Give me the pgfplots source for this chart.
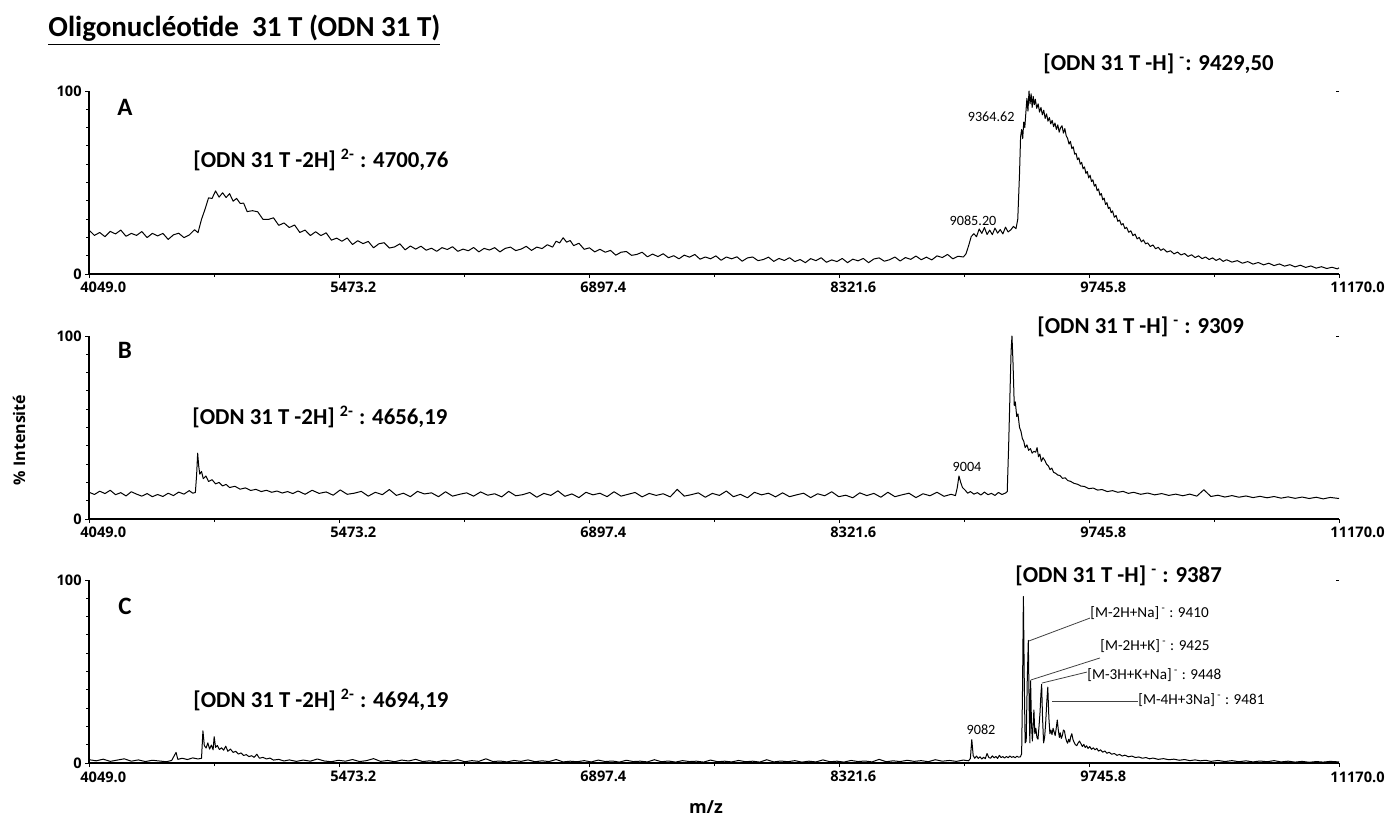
\documentclass[border=0pt]{standalone}
\usepackage{fontspec}
\setmainfont{Carlito}
\newfontfamily\osans{Open Sans}
\usepackage{pgfplots}
\usepackage{pgfplotstable}
\pgfplotsset{compat=1.18}

\pgfplotstableread{
x y
4050 23.9
4080 21.1
4110 22.7
4140 20.4
4170 23.3
4200 21.9
4230 24.0
4260 20.6
4290 22.2
4320 21.1
4350 23.2
4380 19.9
4410 22.2
4440 20.8
4470 22.2
4500 18.9
4530 21.4
4560 22.3
4590 19.9
4620 21.3
4650 24.2
4670 22.6
4690 29.9
4710 35.4
4730 41.6
4750 41.3
4770 45.4
4790 42.0
4810 44.4
4830 41.8
4850 43.9
4870 39.8
4890 41.3
4910 38.6
4930 38.7
4950 34.1
4980 34.6
5010 34.0
5040 29.9
5070 29.8
5100 30.7
5130 26.6
5160 27.9
5190 25.4
5220 26.8
5250 22.7
5280 24.0
5310 21.0
5340 23.1
5370 21.0
5400 22.5
5430 18.5
5460 19.6
5490 17.9
5520 19.7
5550 16.1
5580 18.2
5610 16.6
5640 17.8
5670 14.3
5700 16.5
5730 17.1
5760 14.2
5790 14.8
5820 16.5
5850 13.2
5880 15.3
5910 13.6
5940 15.2
5970 13.0
6000 14.1
6030 12.4
6060 14.4
6090 13.4
6120 14.9
6150 12.4
6180 13.6
6210 12.7
6240 14.5
6270 12.1
6300 14.0
6330 13.1
6360 14.4
6390 12.1
6420 14.0
6450 14.7
6480 12.8
6510 13.6
6540 15.1
6570 12.9
6600 14.7
6630 13.9
6660 16.0
6690 14.7
6710 17.9
6730 17.0
6750 19.8
6770 17.4
6790 18.3
6810 15.5
6840 16.8
6870 13.5
6900 14.3
6930 12.1
6960 13.5
6990 11.9
7020 12.9
7050 10.3
7080 11.9
7110 12.3
7140 10.2
7170 10.7
7200 11.9
7230 9.4
7260 10.9
7290 9.5
7320 11.1
7350 8.9
7380 10.0
7410 8.3
7440 10.3
7470 9.2
7500 10.7
7530 8.1
7560 9.3
7590 8.3
7620 9.9
7650 7.5
7680 9.3
7710 8.3
7740 9.4
7770 7.0
7800 8.8
7830 9.3
7860 7.3
7890 7.9
7920 9.2
7950 6.9
7980 8.5
8010 7.4
8040 8.9
8070 6.8
8100 7.9
8130 6.2
8160 8.4
8190 7.3
8220 8.9
8250 6.4
8280 7.7
8310 6.8
8340 8.5
8370 6.2
8400 8.1
8430 7.2
8460 8.5
8490 6.2
8520 8.2
8550 8.8
8580 7.0
8610 7.8
8640 9.3
8670 7.1
8700 9.0
8730 8.0
8760 9.8
8790 7.8
8820 9.2
8850 7.7
8880 9.9
8910 9.0
8940 10.7
8970 8.3
9000 9.7
9030 9.3
9045 11.0
9060 15.5
9075 20.5
9090 22.0
9105 20.4
9120 24.6
9135 22.2
9150 25.4
9165 21.6
9180 24.0
9195 21.5
9210 25.1
9225 22.3
9240 24.3
9255 21.9
9270 25.6
9285 23.0
9300 24.1
9315 26.0
9330 24.8
9340 30.0
9350 55.0
9356 75.0
9362 79.0
9368 74.0
9374 83.0
9380 80.0
9386 88.0
9392 96.0
9398 89.0
9404 100.0
9410 93.0
9416 98.5
9422 91.0
9428 97.0
9434 92.5
9440 95.5
9448 90.5
9456 93.0
9464 88.5
9472 91.0
9480 87.0
9488 89.5
9496 85.0
9504 87.5
9512 83.5
9520 85.5
9528 82.0
9536 84.0
9544 80.5
9552 82.5
9560 79.0
9568 81.5
9576 77.5
9584 80.0
9592 81.0
9600 77.0
9608 79.5
9616 75.5
9624 74.0
9632 71.0
9640 72.5
9648 68.5
9656 69.5
9664 65.5
9672 66.0
9680 62.5
9688 63.5
9696 60.0
9704 61.0
9712 57.5
9720 58.5
9728 55.0
9736 56.0
9744 52.5
9752 54.0
9760 50.5
9768 51.5
9776 48.0
9784 49.0
9792 45.5
9800 46.5
9808 43.0
9816 44.0
9824 40.5
9832 41.5
9840 38.0
9848 39.0
9856 35.8
9864 36.5
9872 33.5
9880 34.5
9890 31.0
9900 32.0
9910 28.8
9920 29.5
9930 26.8
9940 27.6
9950 24.8
9960 25.5
9972 22.8
9984 23.6
9996 21.0
10008 21.8
10020 19.2
10032 20.0
10044 17.6
10056 18.6
10068 16.5
10080 17.0
10095 15.0
10110 15.9
10125 13.8
10140 14.6
10155 12.9
10170 13.8
10190 12.0
10210 12.7
10230 11.0
10250 12.0
10270 10.4
10290 11.2
10310 9.6
10330 10.5
10350 9.0
10370 9.9
10390 8.4
10410 9.3
10430 7.9
10450 8.8
10470 7.4
10490 8.4
10510 6.9
10530 7.8
10560 6.5
10590 7.3
10620 5.9
10650 6.8
10680 5.4
10710 6.3
10740 5.0
10770 5.9
10800 4.6
10830 5.5
10860 4.3
10890 5.1
10920 3.9
10950 4.8
10980 3.6
11010 4.4
11040 3.2
11070 4.0
11100 3.0
11130 3.7
11160 2.8
11170 3.4
}\dataA

\pgfplotstableread{
x y
4050 14.6
4080 13.4
4110 15.2
4140 13.9
4170 15.7
4200 13.3
4230 14.4
4260 12.6
4290 14.9
4320 13.6
4350 12.5
4380 13.9
4410 12.2
4440 13.4
4470 12.3
4500 14.1
4530 12.8
4560 14.7
4590 13.6
4620 15.5
4640 14.1
4655 14.5
4662 24.0
4668 36.0
4674 29.0
4680 24.5
4690 26.0
4700 22.0
4715 23.5
4730 20.5
4750 21.5
4770 19.2
4790 20.0
4810 18.1
4830 18.9
4850 17.2
4880 17.9
4910 16.3
4940 17.0
4970 15.6
5000 16.2
5030 15.0
5060 15.7
5090 14.6
5120 15.3
5150 14.2
5180 15.0
5210 13.9
5240 15.3
5280 13.5
5320 15.7
5360 14.0
5400 14.8
5440 13.0
5480 15.9
5520 13.5
5560 14.1
5600 15.1
5640 12.5
5680 14.6
5720 13.3
5760 16.1
5800 12.9
5840 14.1
5880 12.2
5920 15.1
5960 13.7
6000 14.3
6040 12.2
6080 14.9
6120 12.5
6160 13.5
6200 14.3
6240 12.5
6280 14.8
6320 13.0
6360 13.8
6400 12.1
6440 15.1
6480 12.7
6520 13.3
6560 14.5
6600 11.9
6640 14.0
6680 12.9
6720 15.4
6760 12.4
6800 13.7
6840 11.7
6880 14.6
6920 13.2
6960 14.1
7000 12.2
7040 14.9
7080 12.5
7120 13.5
7160 14.5
7200 12.1
7240 14.0
7280 12.9
7320 13.8
7360 12.1
7400 16.2
7440 12.5
7480 13.3
7520 14.3
7560 11.9
7600 14.0
7640 12.9
7680 15.3
7720 12.2
7760 13.5
7800 11.6
7840 14.6
7880 13.2
7920 14.1
7960 12.1
8000 14.3
8040 12.2
8080 13.2
8120 14.1
8160 11.7
8200 13.8
8240 12.7
8280 14.9
8320 12.2
8360 13.0
8400 11.6
8440 14.3
8480 12.8
8520 14.0
8560 11.9
8600 14.6
8640 12.2
8680 13.2
8720 14.1
8760 11.7
8800 13.8
8840 12.7
8880 14.6
8920 12.4
8960 13.5
8985 12.8
8995 17.0
9005 23.5
9015 20.0
9025 17.2
9040 15.8
9055 14.1
9070 15.0
9090 13.6
9110 14.4
9130 13.1
9150 14.7
9170 13.3
9190 14.0
9210 12.9
9230 14.5
9250 13.4
9270 14.2
9280 15.0
9288 40.0
9296 70.0
9302 92.0
9307 100.0
9313 85.0
9320 62.0
9326 64.0
9334 56.0
9341 57.5
9350 50.0
9358 48.0
9366 44.0
9374 42.5
9382 39.0
9392 40.5
9402 37.5
9412 38.5
9422 36.0
9432 37.0
9442 36.5
9450 39.0
9458 34.0
9466 35.5
9474 31.5
9484 33.5
9494 32.0
9504 30.0
9514 29.0
9524 27.0
9534 27.8
9544 25.5
9556 25.0
9568 24.0
9580 23.8
9595 22.2
9610 22.5
9625 21.0
9640 20.6
9660 19.5
9680 19.0
9700 18.0
9720 17.8
9745 16.6
9770 16.9
9795 15.8
9820 16.1
9850 15.0
9880 15.5
9910 14.6
9940 15.1
9970 14.0
10000 14.6
10040 13.5
10080 14.2
10120 13.2
10160 13.9
10200 12.9
10240 13.6
10280 12.7
10320 13.6
10360 12.5
10400 16.0
10440 12.3
10480 13.0
10520 12.0
10560 12.8
10600 11.9
10640 12.6
10680 11.7
10720 12.4
10760 11.6
10800 12.3
10840 11.4
10880 12.1
10920 11.3
10960 12.0
11000 11.2
11040 11.9
11080 11.0
11120 11.8
11170 11.2
}\dataB

\pgfplotstableread{
x y
4050 1.8
4090 1.2
4130 2.1
4170 0.9
4210 1.6
4250 2.3
4290 1.0
4330 1.7
4370 0.8
4410 1.5
4450 1.1
4490 0.7
4520 1.4
4545 5.8
4555 2.0
4580 2.6
4610 1.9
4640 2.8
4670 2.2
4690 2.6
4698 17.6
4706 9.5
4716 8.2
4726 11.0
4736 7.6
4746 9.8
4756 7.2
4762 14.4
4770 8.5
4780 9.6
4792 7.4
4804 8.3
4816 7.0
4828 9.2
4840 6.4
4855 7.6
4870 5.8
4885 6.4
4900 4.9
4915 5.5
4930 4.1
4945 4.6
4960 3.5
4975 4.0
4990 3.1
5005 4.8
5020 2.6
5040 3.1
5060 2.2
5080 2.7
5100 1.6
5130 2.0
5160 1.1
5190 1.7
5230 0.9
5270 1.6
5310 1.0
5350 2.2
5390 1.1
5430 0.7
5470 1.5
5510 1.0
5550 1.9
5590 0.8
5630 1.3
5670 2.4
5710 0.9
5750 1.4
5790 0.7
5830 1.6
5870 1.1
5910 2.0
5950 0.8
5990 1.2
6030 0.6
6070 1.5
6110 1.0
6150 1.8
6190 0.7
6230 1.3
6270 0.9
6310 2.3
6350 0.8
6390 1.1
6430 0.6
6470 1.4
6510 0.9
6550 1.7
6590 0.7
6630 1.2
6670 0.8
6710 1.9
6750 0.6
6790 1.0
6830 0.7
6870 1.3
6910 0.6
6950 1.6
6990 0.8
7030 1.1
7070 0.5
7110 1.5
7150 0.8
7190 1.0
7230 0.6
7270 1.8
7310 0.7
7350 1.1
7390 0.5
7430 1.3
7470 0.8
7510 1.0
7550 0.5
7590 1.6
7630 0.7
7670 1.0
7710 0.6
7750 1.4
7790 0.7
7830 1.0
7870 0.5
7910 1.8
7950 0.6
7990 1.1
8030 0.7
8070 1.3
8110 0.5
8150 1.0
8190 0.6
8230 1.7
8270 0.7
8310 1.0
8350 0.5
8390 1.4
8430 0.8
8470 1.1
8510 0.6
8550 2.0
8590 0.7
8630 1.2
8670 0.8
8710 1.5
8750 0.9
8790 1.3
8830 0.7
8870 1.8
8910 1.0
8950 1.4
8990 0.9
9030 1.6
9060 1.2
9070 2.5
9078 12.8
9086 4.0
9095 2.6
9105 3.8
9115 2.5
9125 3.4
9135 2.2
9145 3.1
9155 2.4
9165 5.2
9175 3.0
9185 2.6
9195 3.9
9205 2.8
9215 3.6
9225 2.5
9235 4.2
9245 3.0
9255 3.5
9265 2.7
9275 3.6
9285 2.9
9295 3.8
9305 3.1
9315 3.5
9325 2.9
9335 3.7
9345 3.2
9355 3.4
9362 5.0
9367 40.0
9372 91.0
9377 45.0
9382 11.0
9388 12.0
9394 45.0
9400 67.0
9405 30.0
9409 11.0
9413 45.0
9418 22.0
9423 12.0
9428 22.0
9432 29.0
9437 16.0
9443 19.0
9449 14.0
9455 13.0
9461 20.0
9467 28.0
9472 38.0
9476 43.0
9481 25.0
9487 11.0
9493 14.0
9499 22.0
9505 33.0
9511 41.5
9517 25.0
9523 16.0
9529 18.0
9535 15.5
9541 19.0
9547 17.0
9553 15.0
9559 19.0
9565 23.5
9571 18.0
9577 14.0
9582 16.5
9588 13.5
9594 15.0
9600 18.0
9606 17.5
9612 14.0
9618 12.0
9624 10.8
9630 13.0
9636 11.5
9642 14.5
9648 16.0
9654 13.0
9660 11.5
9668 10.0
9676 9.5
9684 11.0
9692 12.0
9700 10.5
9708 9.0
9716 10.2
9724 8.5
9732 9.4
9740 8.0
9750 9.0
9760 7.5
9770 8.3
9780 7.2
9790 8.0
9800 6.5
9812 7.2
9824 5.9
9836 6.6
9848 5.3
9860 5.9
9875 4.8
9890 5.2
9905 4.2
9920 4.7
9935 3.8
9950 4.3
9970 3.4
9990 3.8
10010 3.0
10030 3.3
10050 2.6
10070 3.0
10090 2.3
10110 2.7
10140 2.0
10170 2.4
10200 1.8
10230 2.1
10260 1.5
10290 1.9
10320 1.3
10350 1.7
10380 1.2
10410 1.5
10440 0.9
10480 1.4
10520 0.8
10560 1.3
10600 0.7
10640 1.2
10680 0.6
10720 1.1
10760 0.7
10800 1.3
10840 0.6
10880 1.0
10920 0.5
10960 0.9
11000 0.4
11040 0.8
11080 0.5
11120 0.9
11170 0.6
}\dataC

\pgfplotsset{
  specaxis/.style={
    anchor=south west, scale only axis, width=625pt, height=91.5pt,
    xmin=4049, xmax=11170, ymin=0, ymax=100,
    axis x line*=bottom, axis y line*=left,
    axis line style={line width=0.6pt,-},
    scaled x ticks=false, scaled y ticks=false,
    xtick={4049,5473.2,6897.4,8321.6,9745.8,11170},
    xticklabels={4049.0,5473.2,6897.4,8321.6,9745.8,11170.0},
    minor xtick={4761.1,6185.3,7609.5,9033.7,10457.9},
    ytick={0,100}, yticklabels={0,100},
    minor ytick={10,20,30,40,50,60,70,80,90},
    tick align=outside, major tick length=2pt, minor tick length=1.5pt,
    every tick/.style={line width=0.5pt, black},
    xticklabel style={font=\osans\bfseries\fontsize{7.3}{8}\selectfont, anchor=north west, inner sep=0pt, xshift=-4.5pt, yshift=-2pt},
    yticklabel style={font=\osans\bfseries\fontsize{7.3}{8}\selectfont, anchor=east, inner sep=0pt, xshift=-1.5pt},
    clip=false,
  },
  specline/.style={black, line width=0.5pt, line join=round, no markers},
}

\begin{document}
\begin{tikzpicture}
\path[use as bounding box] (0,0) rectangle (693pt,-410pt);

\begin{axis}[specaxis, at={(44.5pt,-137pt)}]
\addplot[specline] table {\dataA};
\draw[line width=0.5pt] (axis cs:11170,100) -- ([xshift=-1.5pt]axis cs:11170,100);
\end{axis}

\begin{axis}[specaxis, at={(44.5pt,-259.5pt)}]
\addplot[specline] table {\dataB};
\draw[line width=0.5pt] (axis cs:11170,100) -- ([xshift=-1.5pt]axis cs:11170,100);
\end{axis}

\begin{axis}[specaxis, at={(44.5pt,-381.5pt)}]
\addplot[specline] table {\dataC};
\draw[line width=0.5pt] (axis cs:11170,100) -- ([xshift=-1.5pt]axis cs:11170,100);
\draw[line width=0.4pt, black!75] (axis cs:9404,66.7) -- (axis cs:9751,79.2);
\draw[line width=0.4pt, black!75] (axis cs:9415,45.4) -- (axis cs:9808,57.4);
\draw[line width=0.4pt, black!75] (axis cs:9478,43.7) -- (axis cs:9734,49.7);
\draw[line width=0.4pt, black!75] (axis cs:9535,33.9) -- (axis cs:10025,33.9);
\end{axis}

\begin{scope}[x=0.5pt,y=-0.5pt, inner sep=0pt]
\node[anchor=west, font=\bfseries\fontsize{14.5}{16}\selectfont] at (48,30) {\underline{Oligonucléotide\ \ 31 T (ODN 31 T)}};

\node[font=\bfseries\fontsize{12.5}{14}\selectfont] at (125,107) {A};
\node[font=\bfseries\fontsize{12.5}{14}\selectfont] at (125,350) {B};
\node[font=\bfseries\fontsize{12.5}{14}\selectfont] at (125,606) {C};

\tikzset{big/.style={anchor=west, font=\bfseries\fontsize{11.4}{13}\selectfont}}
\node[big] at (193,160) {[ODN 31 T -2H] \textsuperscript{2-} : 4700,76};
\node[big] at (1043,64) {[ODN 31 T -H] \textsuperscript{-}: 9429,50};
\node[big] at (192,417) {[ODN 31 T -2H] \textsuperscript{2-} : 4656,19};
\node[big] at (1037,327) {[ODN 31 T -H] \textsuperscript{-}\ : 9309};
\node[big] at (193,700) {[ODN 31 T -2H] \textsuperscript{2-} : 4694,19};
\node[big] at (1015,576) {[ODN 31 T -H] \textsuperscript{-}\ : 9387};

\tikzset{pk/.style={font=\fontsize{7.1}{8}\selectfont}}
\node[pk, anchor=east] at (1015,117) {9364.62};
\node[pk] at (973,221) {9085.20};
\node[pk] at (967,467) {9004};
\node[pk] at (981,730) {9082};

\tikzset{ann/.style={anchor=west, font=\fontsize{7.6}{9}\selectfont}}
\node[ann] at (1090,613) {[M-2H+Na]\textsuperscript{ -} : 9410};
\node[ann] at (1100,646) {[M-2H+K]\textsuperscript{ -} : 9425};
\node[ann] at (1087,675) {[M-3H+K+Na]\textsuperscript{ -} : 9448};
\node[ann] at (1138,700) {[M-4H+3Na]\textsuperscript{ -} : 9481};

\node[rotate=90, font=\osans\bfseries\fontsize{8}{9}\selectfont] at (19,440) {\% Intensité};
\node[font=\osans\bfseries\fontsize{9}{10}\selectfont] at (706,807) {m/z};
\end{scope}
\end{tikzpicture}
\end{document}
